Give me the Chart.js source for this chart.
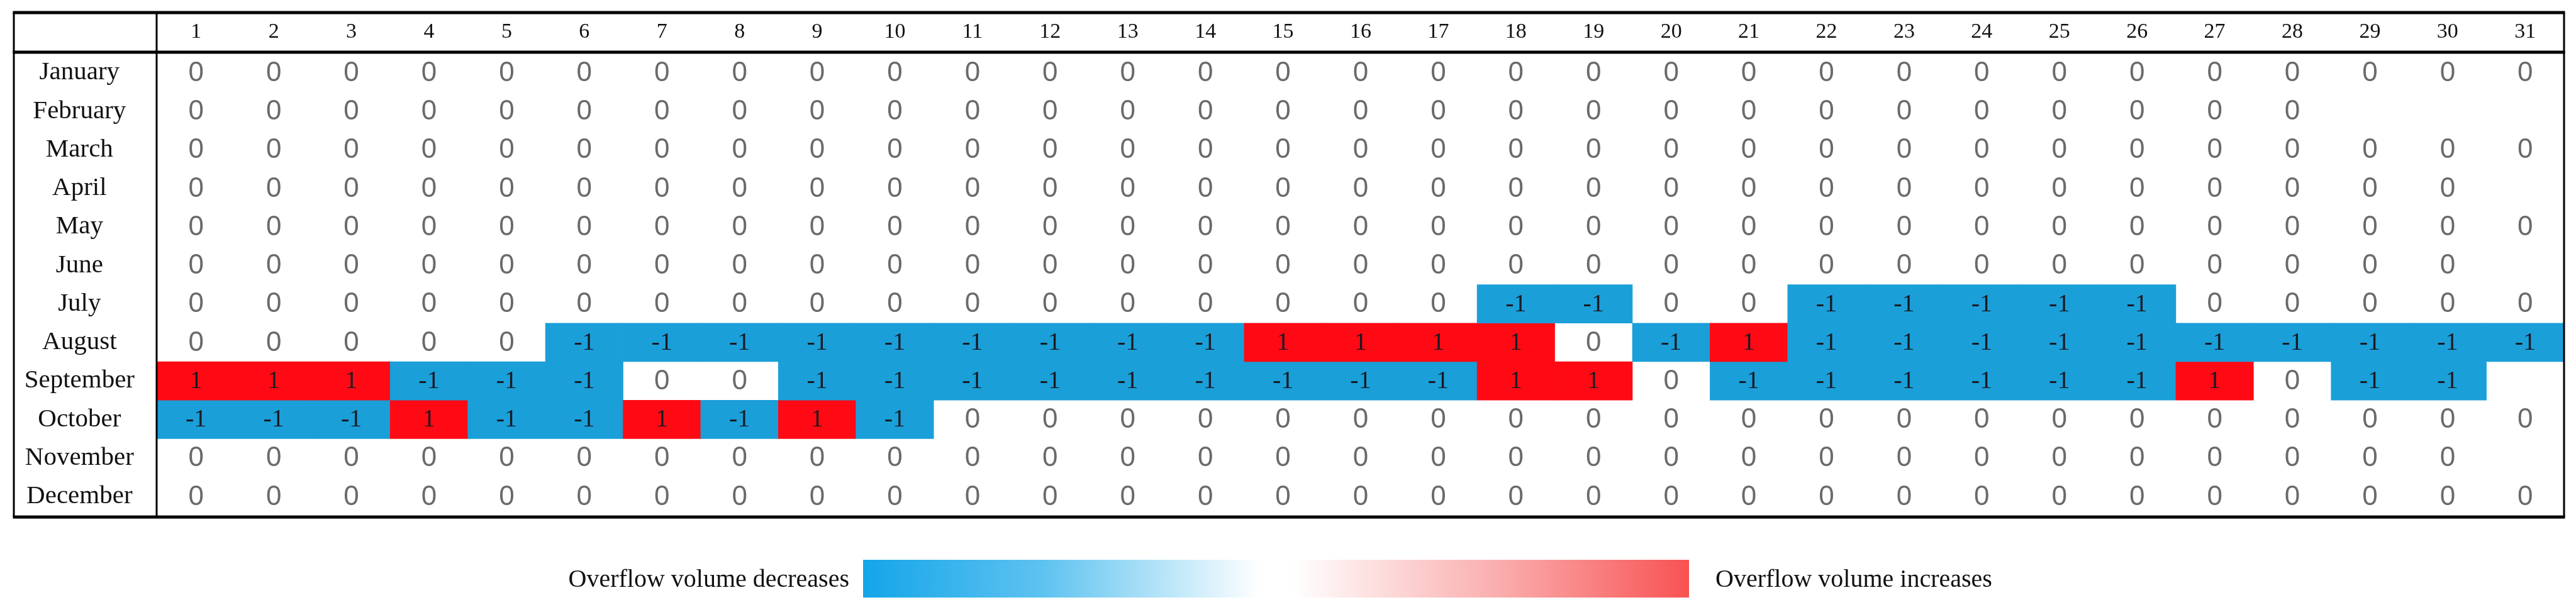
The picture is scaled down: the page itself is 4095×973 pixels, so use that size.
<!DOCTYPE html>
<html>
<head>
<meta charset="utf-8">
<script src="https://cdn.jsdelivr.net/npm/chart.js@4.4.1/dist/chart.umd.min.js"></script>
<style>
  html, body { margin: 0; padding: 0; background: #fff; }
  #overflowChart { display: block; }
</style>
</head>
<body>
<canvas id="overflowChart" width="4095" height="973"></canvas>
<script>
// Row and column labels
const months = ['January', 'February', 'March', 'April', 'May', 'June',
  'July', 'August', 'September', 'October', 'November', 'December'];
const dayLabels = ['1', '2', '3', '4', '5', '6', '7', '8', '9', '10', '11', '12', '13', '14', '15', '16',
  '17', '18', '19', '20', '21', '22', '23', '24', '25', '26', '27', '28', '29', '30', '31'];

// Daily change per month (-1 decrease, 0 no change, 1 increase); short months have fewer days
const janValues = [0, 0, 0, 0, 0, 0, 0, 0, 0, 0, 0, 0, 0, 0, 0, 0, 0, 0, 0, 0, 0, 0, 0, 0, 0, 0, 0, 0, 0, 0, 0];
const febValues = [0, 0, 0, 0, 0, 0, 0, 0, 0, 0, 0, 0, 0, 0, 0, 0, 0, 0, 0, 0, 0, 0, 0, 0, 0, 0, 0, 0];
const marValues = [0, 0, 0, 0, 0, 0, 0, 0, 0, 0, 0, 0, 0, 0, 0, 0, 0, 0, 0, 0, 0, 0, 0, 0, 0, 0, 0, 0, 0, 0, 0];
const aprValues = [0, 0, 0, 0, 0, 0, 0, 0, 0, 0, 0, 0, 0, 0, 0, 0, 0, 0, 0, 0, 0, 0, 0, 0, 0, 0, 0, 0, 0, 0];
const mayValues = [0, 0, 0, 0, 0, 0, 0, 0, 0, 0, 0, 0, 0, 0, 0, 0, 0, 0, 0, 0, 0, 0, 0, 0, 0, 0, 0, 0, 0, 0, 0];
const junValues = [0, 0, 0, 0, 0, 0, 0, 0, 0, 0, 0, 0, 0, 0, 0, 0, 0, 0, 0, 0, 0, 0, 0, 0, 0, 0, 0, 0, 0, 0];
const julValues = [0, 0, 0, 0, 0, 0, 0, 0, 0, 0, 0, 0, 0, 0, 0, 0, 0, -1, -1, 0, 0, -1, -1, -1, -1, -1, 0, 0, 0, 0, 0];
const augValues = [0, 0, 0, 0, 0, -1, -1, -1, -1, -1, -1, -1, -1, -1, 1, 1, 1, 1, 0, -1, 1, -1, -1, -1, -1, -1, -1, -1, -1, -1, -1];
const sepValues = [1, 1, 1, -1, -1, -1, 0, 0, -1, -1, -1, -1, -1, -1, -1, -1, -1, 1, 1, 0, -1, -1, -1, -1, -1, -1, 1, 0, -1, -1];
const octValues = [-1, -1, -1, 1, -1, -1, 1, -1, 1, -1, 0, 0, 0, 0, 0, 0, 0, 0, 0, 0, 0, 0, 0, 0, 0, 0, 0, 0, 0, 0, 0];
const novValues = [0, 0, 0, 0, 0, 0, 0, 0, 0, 0, 0, 0, 0, 0, 0, 0, 0, 0, 0, 0, 0, 0, 0, 0, 0, 0, 0, 0, 0, 0];
const decValues = [0, 0, 0, 0, 0, 0, 0, 0, 0, 0, 0, 0, 0, 0, 0, 0, 0, 0, 0, 0, 0, 0, 0, 0, 0, 0, 0, 0, 0, 0, 0];

const monthValues = [janValues, febValues, marValues, aprValues, mayValues, junValues,
  julValues, augValues, sepValues, octValues, novValues, decValues];

const legendLabels = ['Overflow volume decreases', 'Overflow volume increases'];

const DECREASE_COLOR = '#1a9fd9';
const INCREASE_COLOR = '#ff0a14';

function cellColor(v) {
  if (v < 0) return DECREASE_COLOR;
  if (v > 0) return INCREASE_COLOR;
  return 'rgba(255,255,255,0)';
}

// Each month is one row of floating bars spanning [row, row + 1] on the y scale
const datasets = monthValues.map((values, row) => ({
  label: months[row],
  cellValues: values,
  data: values.map(() => [row, row + 1]),
  backgroundColor: ctx => cellColor(ctx.dataset.cellValues[ctx.dataIndex]),
  borderWidth: 0,
  barPercentage: 1,
  categoryPercentage: 1,
  grouped: false
}));

// Write the value inside every cell
const cellTextPlugin = {
  id: 'cellText',
  afterDatasetsDraw(chart) {
    const ctx = chart.ctx;
    ctx.save();
    ctx.textAlign = 'center';
    ctx.textBaseline = 'middle';
    chart.data.datasets.forEach((ds, i) => {
      chart.getDatasetMeta(i).data.forEach((bar, j) => {
        const v = ds.cellValues[j];
        const cy = (bar.y + bar.base) / 2;
        if (v === 0) {
          ctx.font = '44px "Liberation Sans"';
          ctx.fillStyle = '#6a6a6a';
        } else {
          ctx.font = '40px "Liberation Serif"';
          ctx.fillStyle = '#1a1a22';
        }
        ctx.fillText(String(v), bar.x, cy + 1);
      });
    });
    ctx.restore();
  }
};

// Table frame: double rules on top / under header / bottom, side borders, label column separator
const tableFramePlugin = {
  id: 'tableFrame',
  afterDraw(chart) {
    const ctx = chart.ctx;
    const area = chart.chartArea;
    const xs = chart.scales.x;
    const ys = chart.scales.y;
    const left = ys.left;
    const right = area.right;
    const top = xs.top;
    ctx.save();
    ctx.strokeStyle = '#000';
    ctx.lineWidth = 5;
    [top, area.top - 2, area.bottom + 2].forEach(y => {
      ctx.beginPath();
      ctx.moveTo(left - 1.5, y);
      ctx.lineTo(right + 1.5, y);
      ctx.stroke();
    });
    ctx.lineWidth = 3;
    [left, area.left - 1, right].forEach(x => {
      ctx.beginPath();
      ctx.moveTo(x, top);
      ctx.lineTo(x, area.bottom + 2);
      ctx.stroke();
    });
    ctx.restore();
  }
};

// Gradient colour legend under the table
const gradientLegendPlugin = {
  id: 'gradientLegend',
  afterDraw(chart) {
    const ctx = chart.ctx;
    const barLeft = 1372, barRight = 2685, barTop = 890, barH = 60;
    const grad = ctx.createLinearGradient(barLeft, 0, barRight, 0);
    grad.addColorStop(0, 'rgb(20,165,233)');
    grad.addColorStop(0.22, 'rgb(95,195,240)');
    grad.addColorStop(0.48, 'rgb(255,255,255)');
    grad.addColorStop(0.52, 'rgb(255,255,255)');
    grad.addColorStop(0.78, 'rgb(250,170,170)');
    grad.addColorStop(1, 'rgb(248,82,82)');
    ctx.save();
    ctx.fillStyle = grad;
    ctx.fillRect(barLeft, barTop, barRight - barLeft, barH);
    ctx.font = '40px "Liberation Serif"';
    ctx.fillStyle = '#111';
    ctx.textBaseline = 'middle';
    ctx.textAlign = 'right';
    ctx.fillText(legendLabels[0], barLeft - 22, barTop + barH / 2 + 2);
    ctx.textAlign = 'left';
    ctx.fillText(legendLabels[1], barRight + 42, barTop + barH / 2 + 2);
    ctx.restore();
  }
};

new Chart(document.getElementById('overflowChart'), {
  type: 'bar',
  data: {
    labels: dayLabels,
    datasets: datasets
  },
  plugins: [cellTextPlugin, tableFramePlugin, gradientLegendPlugin],
  options: {
    responsive: false,
    animation: false,
    layout: {
      padding: { left: 22, right: 19, top: 20, bottom: 153 }
    },
    plugins: {
      legend: { display: false },
      tooltip: { enabled: false }
    },
    scales: {
      x: {
        type: 'category',
        position: 'top',
        offset: true,
        grid: { display: false },
        border: { display: false },
        ticks: {
          color: '#111',
          font: { family: 'Liberation Serif', size: 34 },
          padding: 6,
          maxRotation: 0,
          autoSkip: false
        },
        afterFit(scale) { scale.height = 65; }
      },
      y: {
        type: 'linear',
        min: 0,
        max: 12,
        reverse: true,
        grid: { display: false },
        border: { display: false },
        afterBuildTicks(scale) {
          scale.ticks = months.map((m, i) => ({ value: i + 0.5 }));
        },
        ticks: {
          autoSkip: false,
          color: '#111',
          font: { family: 'Liberation Serif', size: 41 },
          crossAlign: 'center',
          padding: 28,
          callback: (value) => months[Math.floor(value)]
        },
        afterFit(scale) { scale.width = 228; }
      }
    }
  }
});
</script>
</body>
</html>
